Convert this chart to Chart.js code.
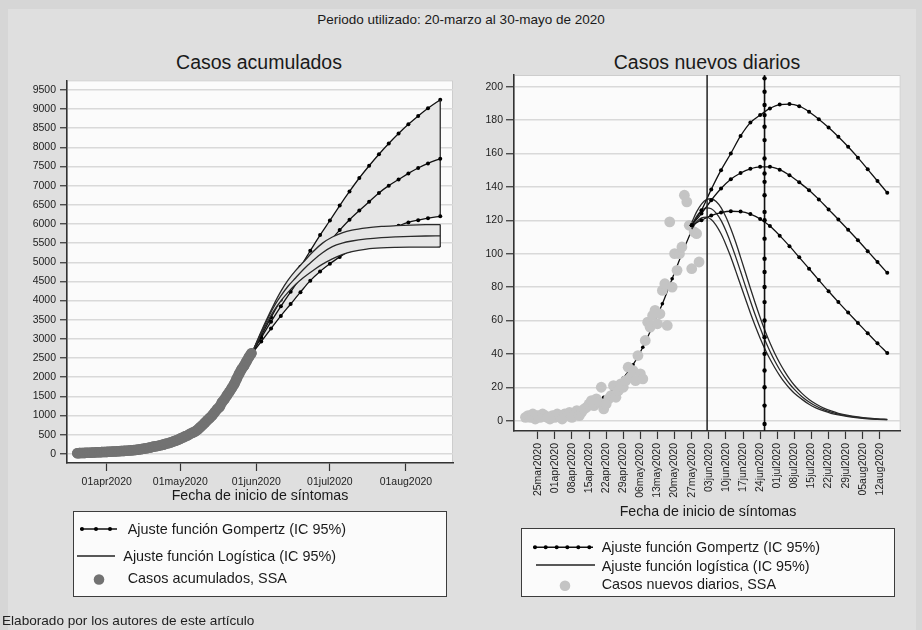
<!DOCTYPE html>
<html>
<head>
<meta charset="utf-8">
<script src="https://cdn.jsdelivr.net/npm/chart.js@4.4.1/dist/chart.umd.min.js"></script>
<style>
  html, body { margin: 0; padding: 0; }
  body {
    width: 922px; height: 630px; position: relative; overflow: hidden;
    background: #d6d6d6; color: #1a1a1a;
    font-family: "Liberation Sans", Arial, sans-serif;
  }
  #panel { position: absolute; left: 8px; top: 9px; width: 908px; height: 621px; background: #dfdfdf; }
  canvas { position: absolute; }
  .t { position: absolute; white-space: nowrap; line-height: 1; }
  .c { text-align: center; }
  .legend { position: absolute; background: #fbfbfb; border: 1.5px solid #3c3c3c; box-sizing: border-box; }
  #swatches { position: absolute; left: 0; top: 0; pointer-events: none; }
</style>
</head>
<body>
<div id="panel"></div>

<div class="t c" style="left:261px;top:12.6px;width:400px;font-size:13.5px;">Periodo utilizado: 20-marzo al 30-mayo de 2020</div>
<div class="t c" style="left:109px;top:52.5px;width:300px;font-size:19.5px;">Casos acumulados</div>
<div class="t c" style="left:557px;top:52.5px;width:300px;font-size:19.5px;">Casos nuevos diarios</div>

<canvas id="leftChart" width="460" height="420" style="left:0;top:70px;"></canvas>
<canvas id="rightChart" width="462" height="450" style="left:460px;top:60px;"></canvas>

<div class="t c" style="left:110px;top:488px;width:300px;font-size:14.2px;">Fecha de inicio de síntomas</div>
<div class="t c" style="left:558px;top:504px;width:300px;font-size:14.2px;">Fecha de inicio de síntomas</div>

<div class="legend" style="left:73px;top:511px;width:374px;height:86px;"></div>
<div class="t" style="left:127.7px;top:521.8px;font-size:14.4px;">Ajuste función Gompertz (IC 95%)</div>
<div class="t" style="left:123.3px;top:548.5px;font-size:14.4px;">Ajuste función Logística (IC 95%)</div>
<div class="t" style="left:127.7px;top:571.1px;font-size:14.4px;">Casos acumulados, SSA</div>

<div class="legend" style="left:521px;top:528px;width:374px;height:69px;"></div>
<div class="t" style="left:601.7px;top:539.5px;font-size:14.4px;">Ajuste función Gompertz (IC 95%)</div>
<div class="t" style="left:601.7px;top:558.5px;font-size:14.4px;">Ajuste función logística (IC 95%)</div>
<div class="t" style="left:601.7px;top:577.1px;font-size:14.4px;">Casos nuevos diarios, SSA</div>

<svg id="swatches" width="922" height="630">
  <line x1="80" y1="529" x2="117" y2="529" stroke="#111" stroke-width="1.4"/>
  <circle cx="82" cy="529" r="2" fill="#000"/>
  <circle cx="96" cy="529" r="2" fill="#000"/>
  <circle cx="110" cy="529" r="2" fill="#000"/>
  <line x1="77" y1="556" x2="115" y2="556" stroke="#222" stroke-width="1.4"/>
  <circle cx="99" cy="579.5" r="5.3" fill="#727272"/>

  <line x1="533" y1="547.3" x2="593" y2="547.3" stroke="#111" stroke-width="1.4"/>
  <circle cx="535" cy="547.3" r="2" fill="#000"/>
  <circle cx="545.7" cy="547.3" r="2" fill="#000"/>
  <circle cx="556.7" cy="547.3" r="2" fill="#000"/>
  <circle cx="567.3" cy="547.3" r="2" fill="#000"/>
  <circle cx="578.3" cy="547.3" r="2" fill="#000"/>
  <circle cx="589.3" cy="547.3" r="2" fill="#000"/>
  <line x1="536" y1="565" x2="595" y2="565" stroke="#222" stroke-width="1.4"/>
  <circle cx="565" cy="585.7" r="5.3" fill="#c4c4c4"/>
</svg>

<div class="t" style="left:2px;top:613.5px;font-size:13.6px;color:#222;">Elaborado por los autores de este artículo</div>

<script>
// ---- Day numbers count from 20-mar-2020 (day 0) ----

// Observed period: 20-mar to 30-may-2020
const obsDays = Array.from({ length: 72 }, (_, i) => i);

// Daily new cases (SSA)
const dailyCases = [2,3,2,4,1,3,2,4,3,2, 1,3,2,4,3,1,4,3,5,2,
  4,6,3,5,7,8,10,12,9,13, 11,20,7,10,13,15,21,14,18,22,
  20,24,32,26,30,24,39,28,25,48, 59,56,63,66,58,64,78,82,57,119,
  80,100,90,100,104,135,131,117,91,113, 112,95];

// Cumulative cases (SSA)
const cumulativeCases = [15,18,20,24,26,29,32,36,39,42, 44,47,50,54,57,60,64,68,72,76,
  80,86,90,96,103,111,121,133,143,156, 168,187,197,209,223,239,260,276,295,318,
  340,365,396,423,455,482,522,552,580,628, 688,745,810,877,937,1003,1082,1165,1224,1343,
  1424,1525,1616,1717,1822,1958,2090,2208,2300,2414, 2527,2623];

// Cumulative projections
const gompDaysCum = [71,75,79,83,87,91,95,99,103,107,111,115,119,123,127,131,135,139,143,148];
const gompUpperCum  = [2600,3080,3560,4020,4450,4880,5300,5710,6090,6480,6850,7200,7520,7820,8100,8360,8600,8820,9020,9242];
const gompCenterCum = [2600,3030,3450,3850,4230,4590,4930,5250,5550,5840,6110,6350,6580,6810,7000,7160,7320,7460,7580,7705];
const gompLowerCum  = [2600,2930,3270,3600,3910,4220,4520,4760,4960,5140,5310,5460,5600,5730,5850,5950,6040,6100,6150,6200];

const logDaysCum = [71,74,77,80,83,86,89,92,96,100,104,108,112,118,124,130,136,142,148];
const logUpperCum  = [2600,3050,3480,3880,4240,4540,4780,4990,5270,5500,5660,5770,5840,5900,5935,5955,5970,5980,5985];
const logCenterCum = [2600,3030,3440,3820,4120,4380,4590,4800,5040,5250,5410,5500,5555,5610,5645,5665,5678,5686,5690];
const logLowerCum  = [2600,3000,3380,3720,3990,4220,4420,4590,4780,4950,5090,5200,5280,5345,5375,5388,5394,5397,5398];

// Fitted daily curve over the observed period
const fitDays = [0,4,8,12,16,20,24,28,32,36,40,44,48,52,56,60,64,68];
const fitDaily = [0.8,1.2,1.8,2.7,3.9,5.5,7.7,10.5,14,19,25.5,33.5,44,56.5,70,85,100,114];

// Daily projections, Gompertz
const gompDaysDaily = [68,72,76,80,84,88,92,96,100,104,108,112,116,120,124,128,132,136,140,144,148];
const gompUpperDaily  = [117,126,138.5,150,160,170.5,178.5,183,187,189.3,189.6,188.3,185,180.5,175.5,170,164,157.5,150.5,143.5,136.5];
const gompCenterDaily = [117,124,132,139,144.5,148.3,150.8,152,152,150.3,147,142.7,138,132.5,126.5,120.5,114.3,108,101.5,95,88.5];
const gompLowerDaily  = [117,120,122.8,124.6,125.4,125.2,123.7,120.8,116.5,110.8,104.5,97.8,91,84.2,77.5,71,64.7,58.5,52.3,46.3,40.5];

// Daily projections, logistic
const logDaysDaily = [68,70,72,74,76,78,80,82,84,86,88,90,92,94,96,98,100,102,104,106,108,110,113,116,119,122,125,128,132,136,140,144,148];
const logUpperDaily  = [118.6,125.0,129.7,132.4,132.9,131.3,127.6,122.0,114.9,106.8,97.8,88.6,79.3,70.3,61.8,53.8,46.6,40.2,34.5,29.5,25.0,21.2,16.5,12.7,9.8,7.5,5.8,4.4,3.1,2.2,1.5,1.05,0.72];
const logCenterDaily = [117.0,122.3,125.9,127.4,126.9,124.3,119.9,113.7,106.3,98.1,89.3,80.4,71.7,63.3,55.5,48.1,41.6,35.7,30.5,26.1,22.1,18.7,14.5,11.2,8.6,6.6,5.1,3.9,2.7,1.9,1.3,0.9,0.63];
const logLowerDaily  = [114.7,119.0,121.4,121.9,120.4,117.0,111.9,105.4,98.0,89.7,81.2,72.8,64.5,56.7,49.4,42.8,36.9,31.7,27.0,22.9,19.4,16.4,12.9,9.8,7.5,5.8,4.4,3.4,2.4,1.6,1.1,0.8,0.56];

// Peak dates marked on the daily panel
const logisticPeakDay = 74.3;
const gompertzPeakDay = 97.8;
const gompertzPeakMarks = [-2,9,20,30,40,50,60,71,80,89,97,109,120,125,135,143,148,157,168,176,183,189,197,205];

// Axis ticks
const leftTickDays = [12, 42, 73, 103, 134];
const leftTickLabels = ['01apr2020', '01may2020', '01jun2020', '01jul2020', '01aug2020'];
const leftYTicks = [0,500,1000,1500,2000,2500,3000,3500,4000,4500,5000,5500,6000,6500,7000,7500,8000,8500,9000,9500];
const rightTickDays = [5,12,19,26,33,40,47,54,61,68,75,82,89,96,103,110,117,124,131,138,145];
const rightTickLabels = ['25mar2020','01apr2020','08apr2020','15apr2020','22apr2020','29apr2020',
  '06may2020','13may2020','20may2020','27may2020','03jun2020','10jun2020','17jun2020','24jun2020',
  '01jul2020','08jul2020','15jul2020','22jul2020','29jul2020','05aug2020','12aug2020'];
const rightYTicks = [0,20,40,60,80,100,120,140,160,180,200];

// ---- drawing ----
const pts = (xs, ys) => xs.map((x, i) => ({ x, y: ys[i] }));
const last = a => a[a.length - 1];

Chart.defaults.font.family = '"Liberation Sans", Arial, sans-serif';
Chart.defaults.color = '#222';

const BAND = '#e6e6e6';
const INK = '#111';

const plotFrame = {
  id: 'plotFrame',
  beforeDraw(chart) {
    const { ctx, chartArea: a } = chart;
    ctx.save();
    ctx.fillStyle = '#fbfbfb';
    ctx.fillRect(a.left, a.top, a.right - a.left, a.bottom - a.top);
    ctx.strokeStyle = '#cdcdcd';
    ctx.lineWidth = 1;
    ctx.strokeRect(a.left + 0.5, a.top + 0.5, a.right - a.left - 1, a.bottom - a.top - 1);
    ctx.restore();
  }
};

const gompLine = { borderColor: INK, borderWidth: 1.3, cubicInterpolationMode: 'monotone',
  pointRadius: 2, pointBackgroundColor: '#000', pointBorderWidth: 0, fill: false };
const logLine = { borderColor: '#2a2a2a', borderWidth: 1.3, cubicInterpolationMode: 'monotone',
  pointRadius: 0, fill: false };
const edge = { borderColor: '#2a2a2a', borderWidth: 1.3, pointRadius: 0, fill: false };

function yAxis(min, max, ticks, width, tickLen, pad) {
  return {
    type: 'linear', position: 'left', min, max,
    afterBuildTicks: s => { s.ticks = ticks.map(v => ({ value: v })); },
    afterFit: s => { s.width = width; },
    ticks: { font: { size: 10.5 }, color: '#222', padding: pad, autoSkip: false,
             callback: v => String(v) },
    grid: { color: '#d9d9d9', lineWidth: 1.5, drawTicks: true, tickLength: tickLen,
            tickColor: '#333', tickWidth: 1.2 },
    border: { display: true, color: '#333', width: 1.5 }
  };
}

function xAxis(min, max, tickDays, tickLabels, height, rotated, pad) {
  return {
    type: 'linear', position: 'bottom', min, max,
    afterBuildTicks: s => { s.ticks = tickDays.map(v => ({ value: v })); },
    afterFit: s => { s.height = height; },
    ticks: { font: { size: 10.5 }, color: '#222', padding: pad, autoSkip: false,
             minRotation: rotated ? 90 : 0, maxRotation: rotated ? 90 : 0,
             callback: (v, i) => tickLabels[i] },
    grid: { drawOnChartArea: false, drawTicks: true, tickLength: 8,
            tickColor: '#333', tickWidth: 1.2 },
    border: { display: true, color: '#333', width: 1.5 }
  };
}

const common = {
  responsive: false, animation: false, devicePixelRatio: 1, events: [],
  plugins: { legend: { display: false }, tooltip: { enabled: false } }
};

// Cumulative cases panel
new Chart(document.getElementById('leftChart'), {
  type: 'line',
  data: {
    datasets: [
      { ...gompLine, data: pts(gompDaysCum, gompUpperCum), order: 10,
        fill: { target: 2, above: BAND, below: BAND } },
      { ...gompLine, data: pts(gompDaysCum, gompCenterCum), order: 9 },
      { ...gompLine, data: pts(gompDaysCum, gompLowerCum), order: 9 },
      { ...edge, data: [{ x: last(gompDaysCum), y: last(gompLowerCum) }, { x: last(gompDaysCum), y: last(gompUpperCum) }], order: 9 },
      { ...logLine, data: pts(logDaysCum, logUpperCum), order: 7,
        fill: { target: 6, above: BAND, below: BAND } },
      { ...logLine, data: pts(logDaysCum, logCenterCum), order: 6 },
      { ...logLine, data: pts(logDaysCum, logLowerCum), order: 6 },
      { ...edge, data: [{ x: last(logDaysCum), y: last(logLowerCum) }, { x: last(logDaysCum), y: last(logUpperCum) }], order: 6 },
      // overlapping markers merge into a solid band
      { data: pts(obsDays, cumulativeCases), showLine: true, borderColor: '#727272',
        borderWidth: 10.5, borderCapStyle: 'round', borderJoinStyle: 'round',
        cubicInterpolationMode: 'monotone', pointRadius: 5.3,
        pointBackgroundColor: '#727272', pointBorderWidth: 0, fill: false, order: 1 }
    ]
  },
  options: {
    ...common,
    layout: { padding: { top: 7, right: 7, left: 0, bottom: 0 } },
    scales: {
      x: xAxis(-4.2, 153.2, leftTickDays, leftTickLabels, 27, false, 5),
      y: yAxis(-240, 9750, leftYTicks, 67, 7, 4)
    }
  },
  plugins: [plotFrame]
});

// Daily new cases panel
const rMin = -6.2, rMax = 207;
new Chart(document.getElementById('rightChart'), {
  type: 'line',
  data: {
    datasets: [
      { ...gompLine, pointRadius: 1.8, data: pts(fitDays, fitDaily), order: 20 },
      { data: pts(obsDays, dailyCases), showLine: false, pointRadius: 5.4,
        pointBackgroundColor: '#c4c4c4', pointBorderWidth: 0, order: 15 },
      { ...gompLine, data: pts(gompDaysDaily, gompUpperDaily), order: 5 },
      { ...gompLine, data: pts(gompDaysDaily, gompCenterDaily), order: 5 },
      { ...gompLine, data: pts(gompDaysDaily, gompLowerDaily), order: 5 },
      { ...logLine, data: pts(logDaysDaily, logUpperDaily), order: 5 },
      { ...logLine, data: pts(logDaysDaily, logCenterDaily), order: 5 },
      { ...logLine, data: pts(logDaysDaily, logLowerDaily), order: 5 },
      { ...edge, borderColor: '#222', borderWidth: 1.5,
        data: [{ x: logisticPeakDay, y: rMin }, { x: logisticPeakDay, y: rMax }], order: 2 },
      { ...edge, borderColor: '#111', borderWidth: 1.6,
        data: [{ x: gompertzPeakDay, y: rMin }, { x: gompertzPeakDay, y: rMax }], order: 2 },
      { data: gompertzPeakMarks.map(v => ({ x: gompertzPeakDay, y: v })), showLine: false,
        pointRadius: 2.2, pointBackgroundColor: '#000', pointBorderWidth: 0, order: 1 }
    ]
  },
  options: {
    ...common,
    layout: { padding: { top: 15, right: 21.3, left: 0, bottom: 0 } },
    scales: {
      x: xAxis(-4.7, 153.5, rightTickDays, rightTickLabels, 79, true, 4),
      y: yAxis(rMin, rMax, rightYTicks, 54, 8, 3)
    }
  },
  plugins: [plotFrame]
});
</script>
</body>
</html>
